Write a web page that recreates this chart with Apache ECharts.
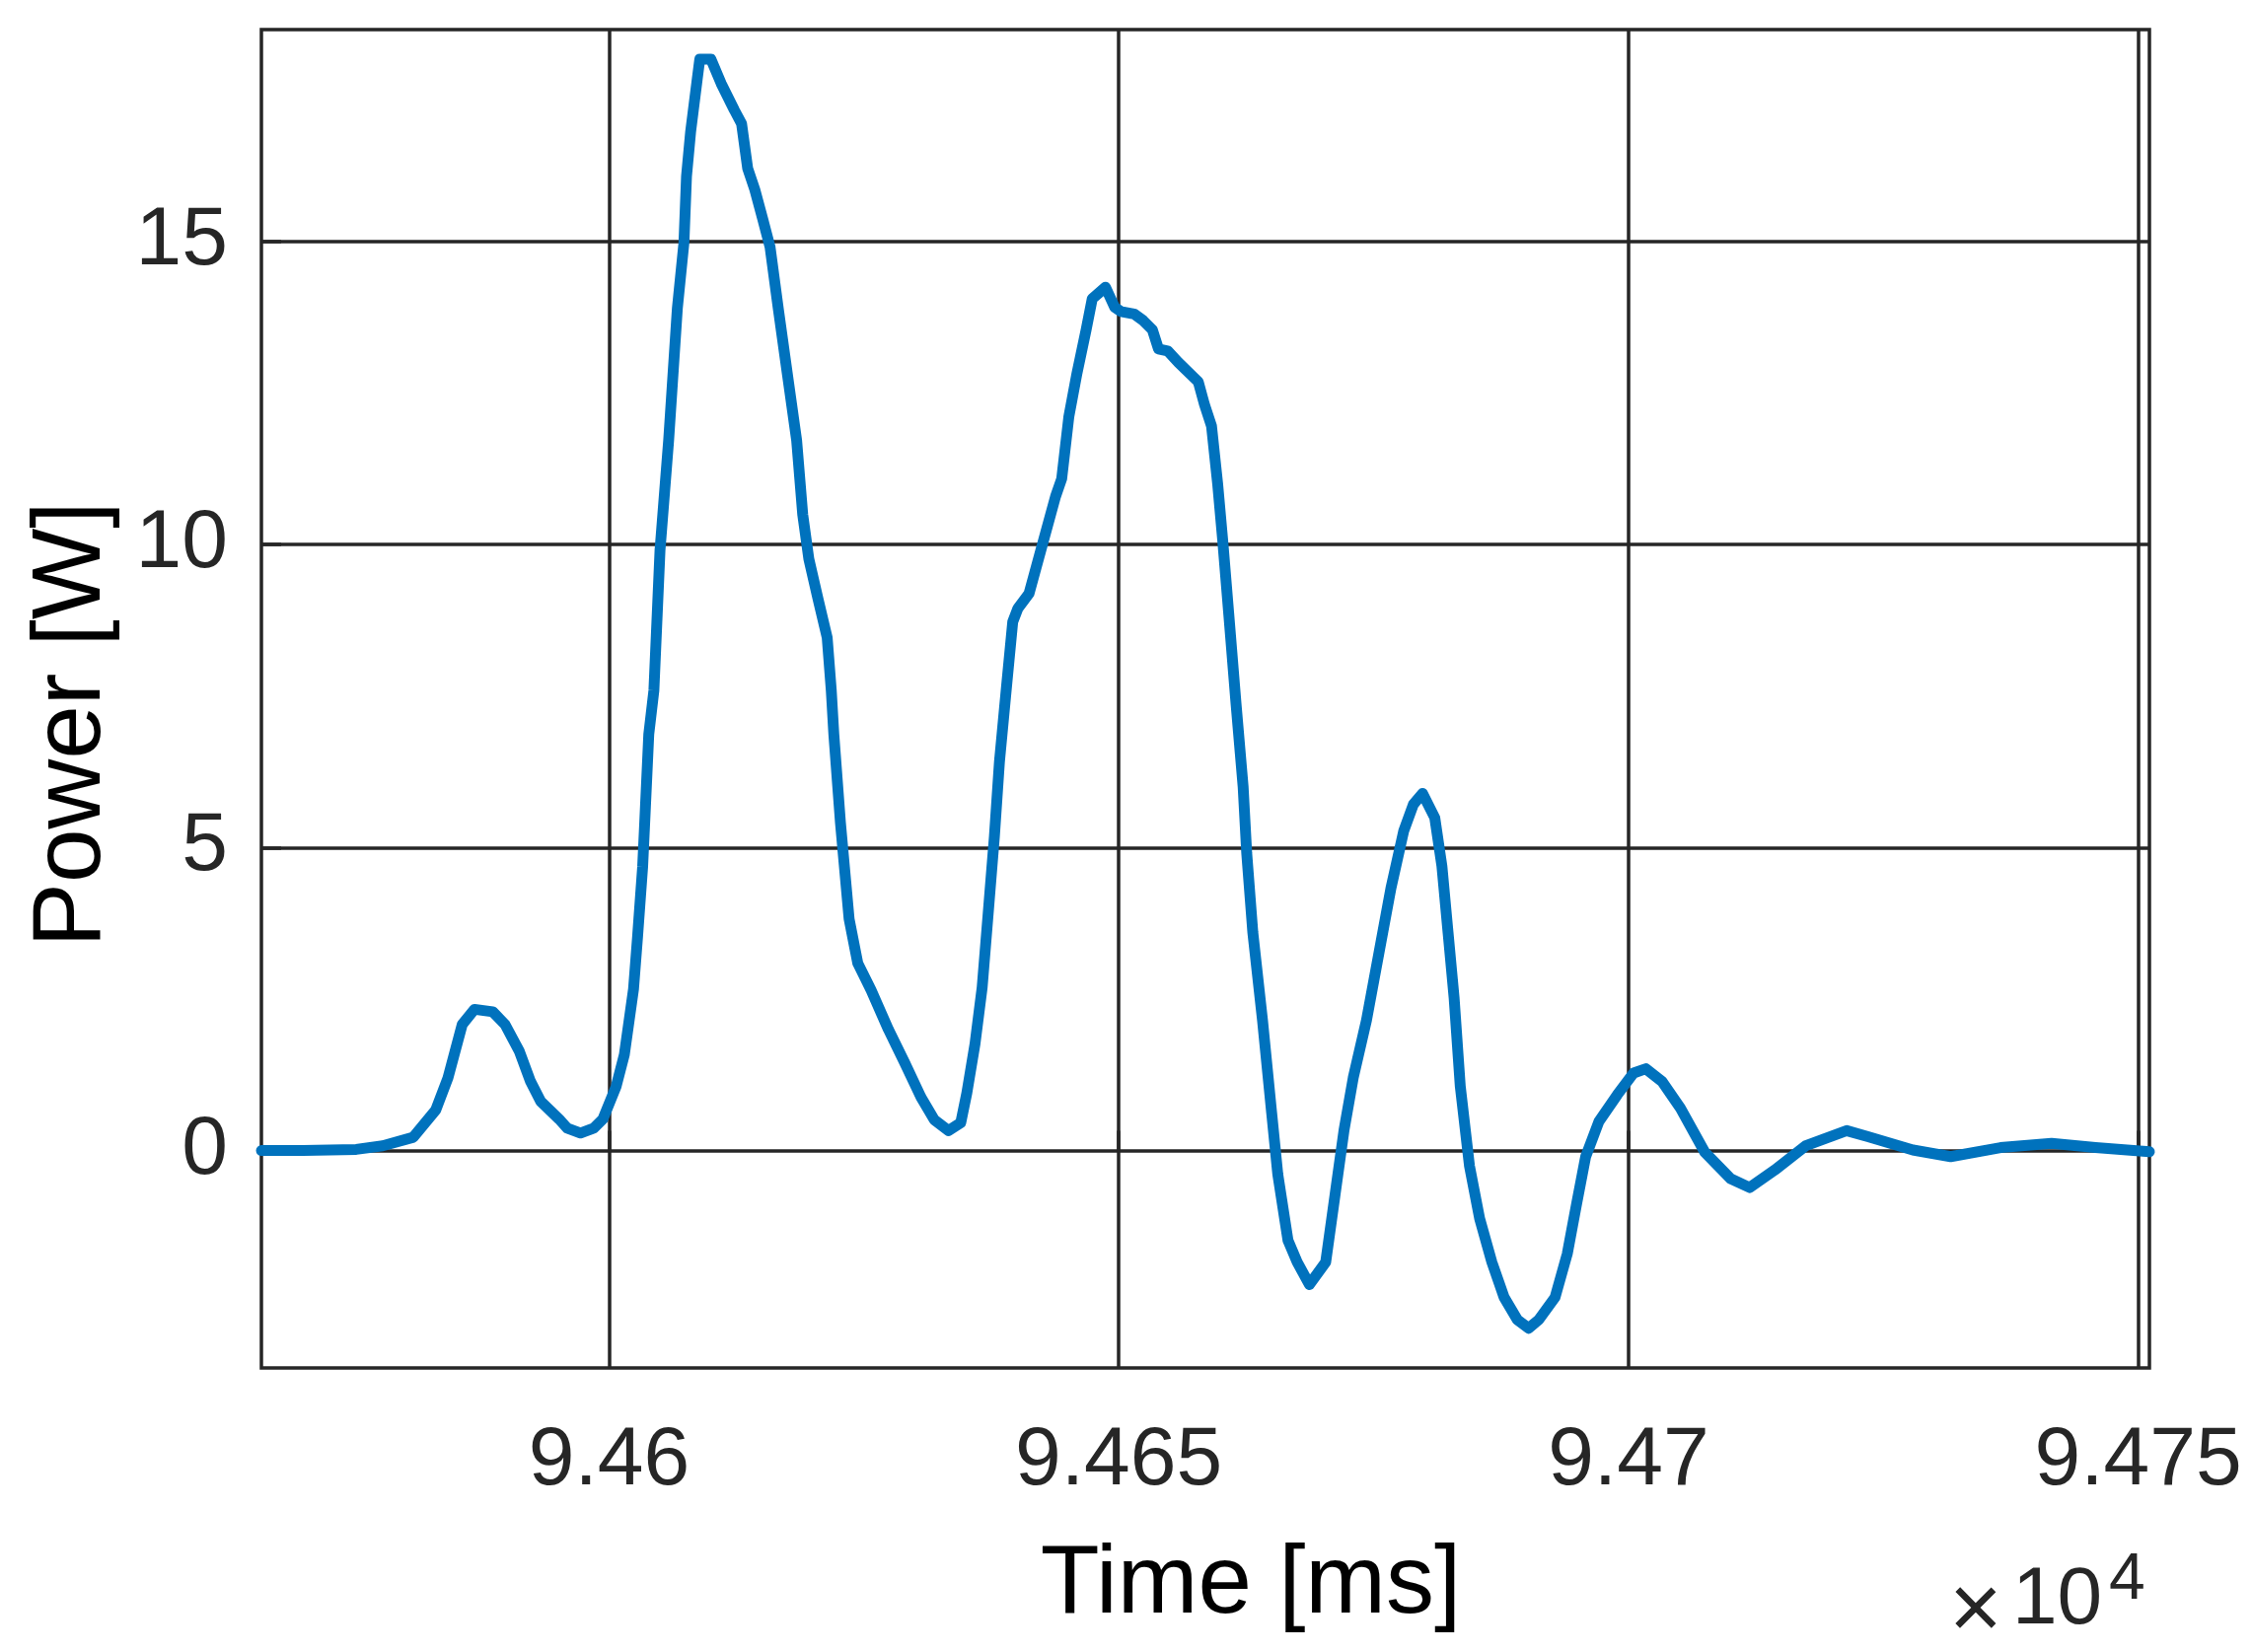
<!DOCTYPE html>
<html>
<head>
<meta charset="utf-8">
<title>Power vs Time</title>
<script src="https://cdn.jsdelivr.net/npm/echarts@6/dist/echarts.min.js"></script>
<style>
  html, body { margin: 0; padding: 0; background: #fff; }
  #chart { width: 2283px; height: 1675px; }
</style>
</head>
<body>
<div id="chart"></div>
<script>
// traced samples: time in ms, power in W
const timeMs = [
  94565.9, 94570.0, 94575.2, 94577.8, 94580.8, 94583.0, 94584.2, 94585.6, 94586.8, 94588.6,
  94589.8, 94591.2, 94592.3, 94593.3, 94595.1, 94595.9, 94597.2, 94598.5, 94599.4, 94600.7,
  94601.5, 94602.4, 94602.8, 94603.3, 94603.5, 94603.9, 94604.4, 94605.0, 94605.85, 94606.7,
  94607.35, 94607.6, 94608.0, 94608.65, 94608.9, 94610.0, 94611.0, 94612.3, 94613.0, 94613.6,
  94614.3, 94615.1, 94615.8, 94616.6, 94617.5, 94618.4, 94619.0, 94619.6, 94620.5, 94621.4,
  94621.8, 94622.05, 94622.7, 94623.55, 94624.4, 94625.7, 94627.4, 94629.0, 94630.6, 94631.9,
  94633.3, 94634.5, 94635.1, 94635.9, 94636.6, 94637.2, 94637.8, 94638.3, 94639.0, 94639.6,
  94640.1, 94641.2, 94642.5, 94643.8, 94644.4, 94645.1, 94645.9, 94646.8, 94647.4, 94648.7,
  94649.6, 94650.2, 94651.5, 94652.4, 94653.3, 94653.9, 94654.8, 94655.85, 94657.8, 94658.4,
  94659.1, 94659.7, 94660.2, 94660.8, 94661.5, 94662.2, 94662.55, 94663.15, 94664.1, 94665.0,
  94665.6, 94666.6, 94667.5, 94668.7, 94670.3, 94671.2, 94672.1, 94673.0, 94674.3, 94675.5,
  94676.7, 94677.95, 94678.9, 94679.8, 94681.0, 94681.7, 94682.3, 94682.9, 94683.5, 94684.4,
  94685.4, 94686.6, 94687.8, 94689.1, 94690.2, 94691.2, 94692.8, 94694.0, 94694.9, 94695.8,
  94697.1, 94698.9, 94700.5, 94701.7, 94703.3, 94705.1, 94707.5, 94710.0, 94711.9, 94714.35,
  94717.4, 94721.4, 94723.5, 94727.9, 94731.6, 94736.5, 94741.5, 94745.8, 94751.1
]
const powerW = [
  0.0, 0.0, 0.02, 0.08, 0.22, 0.67, 1.2, 2.08, 2.33, 2.29,
  2.08, 1.64, 1.14, 0.81, 0.52, 0.37, 0.29, 0.37, 0.52, 1.06,
  1.58, 2.66, 3.53, 4.69, 5.41, 6.87, 7.59, 9.9, 11.72, 13.89,
  14.98, 16.07, 16.8, 17.67, 18.0, 18.0, 17.6, 17.16, 16.94, 16.2,
  15.85, 15.35, 14.9, 13.89, 12.8, 11.72, 10.49, 9.76, 9.1, 8.46,
  7.59, 6.87, 5.41, 3.82, 3.09, 2.65, 2.0, 1.45, 0.88, 0.51,
  0.33, 0.46, 0.95, 1.76, 2.69, 3.93, 5.18, 6.42, 7.67, 8.72,
  8.94, 9.19, 9.99, 10.79, 11.08, 12.1, 12.82, 13.54, 14.05, 14.24,
  13.91, 13.84, 13.8, 13.69, 13.54, 13.22, 13.19, 13.0, 12.68, 12.31,
  11.95, 11.0, 10.06, 8.83, 7.38, 6.0, 4.91, 3.6, 2.15, 0.62,
  -0.39, -1.48, -1.84, -2.21, -1.84, -0.75, 0.34, 1.2, 2.15, 3.24,
  4.33, 5.27, 5.71, 5.89, 5.49, 4.69, 3.6, 2.51, 1.06, -0.25,
  -1.12, -1.84, -2.42, -2.79, -2.93, -2.79, -2.42, -1.7, -0.89, -0.1,
  0.48, 0.92, 1.28, 1.35, 1.14, 0.7, -0.03, -0.46, -0.61, -0.32,
  0.08, 0.33, 0.23, 0.01, -0.1, 0.05, 0.12, 0.05, -0.02
]

const xTicks = [94600, 94650, 94700, 94750]
const yTicks = [0, 5, 10, 15]
const xRange = [94565.9, 94751.1]
const yRange = [-3.585, 18.49]
const xScale = 1e4

const INK = '#262626'
const FONT = "'Liberation Sans', Arial, Helvetica, sans-serif"

const chart = echarts.init(document.getElementById('chart'), null, { renderer: 'canvas' })

chart.setOption({
  animation: false,
  backgroundColor: '#fff',
  grid: {
    left: 265, right: 104, top: 30, bottom: 288,
    show: true, borderColor: INK, borderWidth: 3.5, backgroundColor: 'transparent',
  },
  xAxis: {
    type: 'value',
    min: xRange[0],
    max: xRange[1],
    name: 'Time [ms]',
    nameLocation: 'middle',
    nameGap: 172,
    nameTextStyle: { fontFamily: FONT, fontSize: 98, color: '#000', padding: [0, 0, 0, 92] },
    axisLine: { show: false },
    axisTick: { show: true, inside: true, length: 20, customValues: xTicks, lineStyle: { color: INK, width: 3.5 } },
    axisLabel: {
      customValues: xTicks,
      margin: 53,
      fontFamily: FONT, fontSize: 84, color: INK,
      formatter: v => String(+(v / xScale).toFixed(4)),
    },
    splitLine: { show: true, lineStyle: { color: INK, width: 3.5 } },
  },
  yAxis: {
    type: 'value',
    min: yRange[0],
    max: yRange[1],
    name: 'Power [W]',
    nameLocation: 'middle',
    nameGap: 142,
    nameTextStyle: { fontFamily: FONT, fontSize: 98, color: '#000', padding: [0, 52, 0, 0] },
    axisLine: { show: false },
    axisTick: { show: true, inside: true, length: 20, customValues: yTicks, lineStyle: { color: INK, width: 3.5 } },
    axisLabel: { customValues: yTicks, margin: 34, fontFamily: FONT, fontSize: 84, color: INK },
    splitLine: { show: true, lineStyle: { color: INK, width: 3.5 } },
  },
  graphic: [
    { type: 'text', left: 1976, top: 1590, style: { text: '×', fontFamily: FONT, fontSize: 92, fill: INK } },
    { type: 'text', left: 2040, top: 1582, style: { text: '10', fontFamily: FONT, fontSize: 82, fill: INK } },
    { type: 'text', left: 2138, top: 1570, style: { text: '4', fontFamily: FONT, fontSize: 66, fill: INK } },
  ],
  series: [{
    type: 'line',
    data: timeMs.map((t, i) => [t, powerW[i]]),
    showSymbol: false,
    smooth: false,
    lineStyle: { color: '#0072BD', width: 11, join: 'round', cap: 'round' },
    clip: true,
  }],
})
</script>
</body>
</html>
